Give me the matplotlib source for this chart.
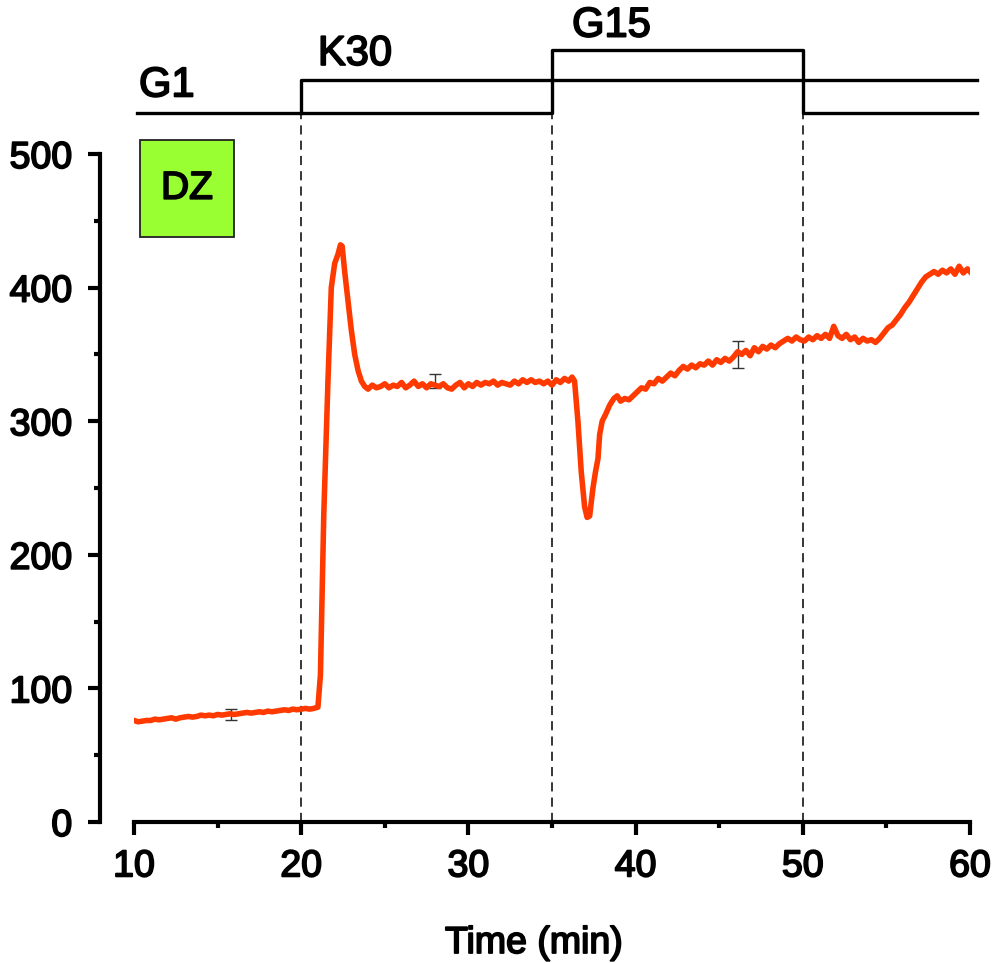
import matplotlib
matplotlib.use("Agg")
import matplotlib.pyplot as plt
import matplotlib.patches as patches
import matplotlib.patheffects as pe
import numpy as np

plt.rcParams['font.family'] = ['Liberation Sans', 'DejaVu Sans']

# Trace (time in min, [Ca2+])
t = [10.0, 10.25, 10.5, 10.75, 11.0, 11.25, 11.5, 11.75, 12.0, 12.25, 12.5, 12.75,
     13.0, 13.25, 13.5, 13.75, 14.0, 14.25, 14.5, 14.75, 15.0, 15.25, 15.5, 15.75,
     16.0, 16.25, 16.5, 16.75, 17.0, 17.25, 17.5, 17.75, 18.0, 18.25, 18.5, 18.75,
     19.0, 19.25, 19.5, 19.75, 20.0, 20.25, 20.5, 20.75, 21.0,
     21.15, 21.35, 21.6, 21.8, 22.0, 22.2, 22.35, 22.45, 22.6, 22.8, 23.0, 23.2,
     23.4, 23.6, 23.8, 24.0,
     24.25, 24.5, 24.75, 25.0, 25.25, 25.5, 25.75, 26.0, 26.25, 26.5, 26.75, 27.0,
     27.25, 27.5, 27.75, 28.0, 28.25, 28.5, 28.75, 29.0, 29.25, 29.5, 29.75, 30.0,
     30.25, 30.5, 30.75, 31.0, 31.25, 31.5, 31.75, 32.0, 32.25, 32.5, 32.75, 33.0,
     33.25, 33.5, 33.75, 34.0, 34.25, 34.5, 34.75, 35.0, 35.25, 35.5, 35.75, 36.0, 36.2,
     36.35, 36.55, 36.75, 36.95, 37.1, 37.25, 37.45, 37.6, 37.75, 37.85, 38.0, 38.2,
     38.45, 38.7, 38.9, 39.1, 39.35, 39.6, 39.85, 40.1, 40.35, 40.6, 40.85, 41.1,
     41.35, 41.6, 41.85, 42.1, 42.35, 42.6, 42.85, 43.1, 43.35, 43.6, 43.85, 44.1,
     44.35, 44.6, 44.85, 45.1, 45.35, 45.6, 45.85, 46.1, 46.35, 46.6, 46.85, 47.1,
     47.35, 47.6, 47.85, 48.1, 48.35, 48.6, 48.85, 49.1, 49.35, 49.6, 49.85, 50.1,
     50.35, 50.6, 50.85, 51.1, 51.35, 51.6, 51.85, 52.1, 52.35, 52.6, 52.85, 53.1,
     53.35, 53.6, 53.85, 54.1, 54.35, 54.6, 54.85, 55.1, 55.35, 55.6, 55.85, 56.1,
     56.35, 56.6, 56.85, 57.1, 57.35, 57.6, 57.85, 58.1, 58.35, 58.6, 58.85, 59.1,
     59.35, 59.6, 59.85, 60.0]
ca = [76, 75, 75.5, 76, 76, 77, 76.5, 77, 77.5, 78, 77, 78,
      78.5, 79, 78.5, 79, 80, 79.5, 80, 79.5, 80.5, 80, 80.5, 81,
      80.5, 81, 81.5, 82, 81.5, 82, 82.5, 82, 83, 82.5, 83, 83.5,
      84, 83.5, 84.5, 84, 84.5, 85, 84.5, 85, 86,
      110, 230, 330, 400, 418, 425, 432, 431, 412, 390, 368, 350,
      338, 330, 326, 324,
      327, 325, 326, 328, 325, 327, 326, 329, 325, 327, 330, 326,
      328, 325, 328, 327, 326, 328, 325, 324, 327, 329, 325, 328,
      326, 329, 327, 329, 328, 330, 327, 329, 328, 327, 330, 328,
      331, 329, 331, 329, 330, 328, 330, 327, 331, 329, 332, 330, 333,
      330, 300, 262, 236, 228, 229, 250, 262, 272, 290, 300, 305,
      312, 317, 319, 315, 317, 316, 319, 322, 325, 324, 329, 328,
      332, 330, 333, 336, 334, 338, 341, 339, 342, 340, 343, 342,
      345, 342, 346, 344, 347, 345, 348, 352, 350, 353, 349, 355,
      352, 356, 354, 357, 355, 358, 360, 362, 360, 363, 361, 360,
      363, 361, 364, 362, 365, 362, 371, 364, 362, 365, 361, 363,
      359, 362, 360, 361, 359, 362, 366, 370, 372, 376, 380, 385,
      389, 394, 399, 404, 408, 410, 412, 410, 413, 411, 414, 410,
      416, 411, 414, 412]

# Error bars
err_t = [15.8, 28.0, 46.1]
err_mean = [80.5, 327, 350]
err_lo = [4, 2, 10]
err_hi = [4, 8, 10]

# Solution changes
g_t = [10.2, 35, 35, 50, 50, 60.42]
g_level = [0, 0, 1, 1, 0, 0]
k_t = [20, 20, 60.42]
k_level = [0, 0.52, 0.52]
switch_times = [20, 35, 50]

W, H = 996, 963
fig = plt.figure(figsize=(W / 100, H / 100), dpi=100)
ax = fig.add_axes([134 / W, 1 - 822 / H, (970 - 134) / W, (822 - 154) / H])

heavy = [pe.withStroke(linewidth=1.3, foreground='black')]

ax.plot(t, ca, color='#ff3a00', lw=4.0, zorder=3, solid_joinstyle='round')
ax.errorbar(err_t, err_mean, yerr=[err_lo, err_hi], fmt='none', ecolor='#333333',
            elinewidth=1.0, capsize=4, capthick=1.0, zorder=2)

for s in switch_times:
    ax.axvline(s, 0, 1.061, color='black', lw=1.1, ls=(0, (6, 4)), clip_on=False, zorder=1)

ax.set_xlim(10, 60)
ax.set_ylim(0, 500)
ax.set_xticks([10, 20, 30, 40, 50, 60])
ax.set_xticks([15, 25, 35, 45, 55], minor=True)
ax.set_yticks([0, 100, 200, 300, 400, 500])
ax.set_yticks([50, 150, 250, 350, 450], minor=True)

for side in ['top', 'right']:
    ax.spines[side].set_visible(False)
ax.spines['left'].set_position(('outward', 34 * 0.72))
ax.spines['left'].set_linewidth(3)
ax.spines['bottom'].set_linewidth(3)
ax.tick_params(axis='both', which='major', length=9, width=3, labelsize=27, direction='out')
ax.tick_params(axis='both', which='minor', length=4, width=3, direction='out')
ax.tick_params(axis='x', pad=10)
ax.tick_params(axis='y', pad=11)
for lab in ax.get_xticklabels() + ax.get_yticklabels():
    lab.set_path_effects(heavy)

fig.text(534 / W, 1 - 943 / H, 'Time (min)', ha='center', va='center', fontsize=27,
         path_effects=heavy)

# DZ box
ax.add_patch(patches.Rectangle((10.36, 438), 5.62, 72.5, facecolor='#99ff33',
                               edgecolor='#222222', lw=1.3, clip_on=False, zorder=4))
ax.text(13.17, 474, 'DZ', ha='center', va='center', fontsize=28, zorder=5,
        path_effects=heavy)

# Solution-change bars above the plot
ax_s = fig.add_axes([134 / W, 1 - 113 / H, (970 - 134) / W, (113 - 50) / H], sharex=ax)
ax_s.axis('off')
ax_s.set_ylim(0, 1)
ax_s.plot(g_t, g_level, color='black', lw=2.4, clip_on=False)
ax_s.plot(k_t, k_level, color='black', lw=2.4, clip_on=False)
ax_s.text(10.3, 0.12, 'G1', fontsize=30, va='bottom', ha='left', path_effects=heavy)
ax_s.text(21.0, 0.62, 'K30', fontsize=30, va='bottom', ha='left', path_effects=heavy)
ax_s.text(36.2, 1.07, 'G15', fontsize=30, va='bottom', ha='left', path_effects=heavy)

fig.savefig('out.png', dpi=100)
